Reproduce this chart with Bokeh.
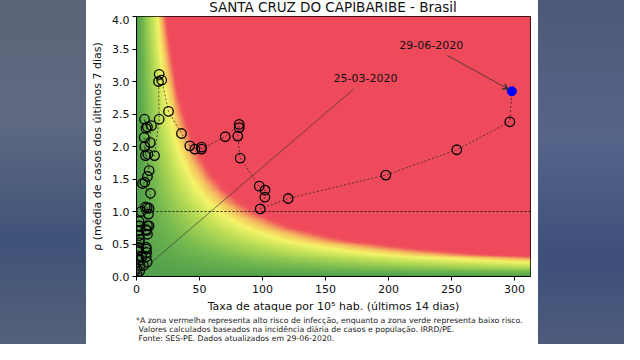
import numpy as np
from bokeh.plotting import figure
from bokeh.models import (Arrow, VeeHead, Label, Span, Div, NumeralTickFormatter)
from bokeh.layouts import row, column
from bokeh.embed import file_html
from bokeh.resources import INLINE

# ---------------- data ----------------
taxa = [0.5, 0.3, 2.5, 1.0, 3.0, 5.5, 4.2, 2.2, 8.5, 7.7, 1.7, 8.0, 1.7, 7.7, 2.4,
        7.7, 2.4, 8.7, 1.3, 8.3, 2.2, 7.4, 2.0, 8.7, 2.4, 10.0, 3.7, 9.5, 8.5, 7.0,
        10.0, 11.1, 4.8, 6.6, 8.7, 10.0, 6.6, 7.1, 6.1, 10.9, 6.3, 7.5, 8.7, 11.9,
        9.0, 14.3,
        18.0, 17.5, 18.0, 20.0, 25.4, 35.7, 42.3, 46.3, 51.6, 51.6, 70.4, 81.5,
        81.5, 80.4, 82.3, 97.4, 102.0, 101.9, 98.2, 120.4, 197.9, 254.2, 296.3]
rho = [0.03, 0.12, 0.08, 0.28, 0.17, 0.17, 0.30, 0.25, 0.22, 0.30, 0.40, 0.37, 0.45,
       0.42, 0.52, 0.45, 0.57, 0.65, 0.70, 0.71, 0.63, 0.72, 0.85, 0.78, 0.78, 0.78,
       1.00, 0.96, 1.06, 1.07, 1.05, 1.28, 1.43, 1.45, 1.54, 1.63, 2.00, 1.86, 2.14,
       2.06, 2.42, 2.28, 2.30, 2.32, 1.88, 1.86,
       2.42, 3.00, 3.11, 3.02, 2.54, 2.20, 2.01, 1.96, 1.99, 1.96, 2.15, 2.34,
       2.29, 2.16, 1.82, 1.39, 1.33, 1.22, 1.04, 1.20, 1.56, 1.95, 2.38]
last_taxa = [297.9]
last_rho = [2.85]

title_text = "SANTA CRUZ DO CAPIBARIBE - Brasil"
first_label = "25-03-2020"
last_label = "29-06-2020"
footnote_lines = [
    "*A zona vermelha representa alto risco de infecção, enquanto a zona verde representa baixo risco.",
    "&nbsp;Valores calculados baseados na incidência diária de casos e população. IRRD/PE.",
    "&nbsp;Fonte: SES-PE. Dados atualizados em 29-06-2020.",
]

x_ticks = [0, 50, 100, 150, 200, 250, 300]
y_ticks = [0.0, 0.5, 1.0, 1.5, 2.0, 2.5, 3.0, 3.5, 4.0]

# colormap stops for the risk background (EPG = taxa * rho)
cmap_levels = [0, 20, 45, 65, 78, 92, 100]
cmap_colors = [(82, 160, 76), (118, 186, 80), (186, 221, 86), (245, 245, 105),
               (245, 190, 95), (240, 82, 92), (239, 74, 92)]

XMAX, YMAX = 312.7, 4.0

# ---------------- background image ----------------
nx, ny = 420, 280
gx = np.linspace(0, XMAX, nx)
gy = np.linspace(0, YMAX, ny)
GX, GY = np.meshgrid(gx, gy)
epg = GX * GY
lv = np.array(cmap_levels, dtype=float)
cc = np.array(cmap_colors, dtype=float)
img = np.empty((ny, nx), dtype=np.uint32)
view = img.view(dtype=np.uint8).reshape((ny, nx, 4))
for k in range(3):
    view[:, :, k] = np.interp(epg, lv, cc[:, k]).astype(np.uint8)
view[:, :, 3] = 255

# ---------------- figure ----------------
FONT = "DejaVu Sans"
p = figure(frame_width=394, frame_height=260, x_range=(0, XMAX), y_range=(0, YMAX),
           output_backend="svg", toolbar_location=None,
           min_border_left=50, min_border_right=8, min_border_top=1,
           min_border_bottom=0, background_fill_color="white",
           border_fill_color="white")

p.image_rgba(image=[img], x=0, y=0, dw=XMAX, dh=YMAX)

p.grid.visible = False
p.outline_line_color = "black"
p.outline_line_width = 1

for ax in (p.xaxis[0], p.yaxis[0]):
    ax.major_tick_out = 4
    ax.major_tick_in = 0
    ax.minor_tick_out = 0
    ax.minor_tick_in = 0
    ax.axis_line_color = "black"
    ax.major_tick_line_color = "black"
    ax.major_label_text_font = FONT
    ax.major_label_text_font_size = "11px"
    ax.major_label_text_color = "#111111"
    ax.axis_label_text_font = FONT
    ax.axis_label_text_font_size = "11px"
    ax.axis_label_text_font_style = "normal"
    ax.axis_label_text_color = "#111111"

p.xaxis.major_label_standoff = 4
p.yaxis.major_label_standoff = 3
p.xaxis.ticker = x_ticks
p.yaxis.ticker = y_ticks
p.yaxis.formatter = NumeralTickFormatter(format="0.0")
p.xaxis.axis_label = "Taxa de ataque por 10\u2075 hab. (últimos 14 dias)"
p.yaxis.axis_label = "\u03c1 (média de casos dos últimos 7 dias)"
p.xaxis.axis_label_standoff = 4
p.yaxis.axis_label_standoff = 5

# reference line rho = 1
p.add_layout(Span(location=1.0, dimension="width", line_color="black",
                  line_width=0.8, line_dash="2 2"))

# trajectory
all_x = taxa + last_taxa
all_y = rho + last_rho
p.line(all_x, all_y, line_color="#222222", line_width=0.8, line_dash="2 2",
       line_alpha=0.9)
p.scatter(taxa, rho, marker="circle", size=9.5, fill_color=None,
          line_color="black", line_width=1.3)
p.scatter(last_taxa, last_rho, marker="circle", size=9, fill_color="blue",
          line_color="blue")

# annotations
p.add_layout(Arrow(end=VeeHead(size=5, line_color="#333333", line_width=0.8),
                   x_start=172.8, y_start=2.89, x_end=taxa[0], y_end=rho[0],
                   line_color="#333333", line_width=0.8, line_alpha=0.8))
p.add_layout(Label(x=181.7, y=3.06, text=first_label, text_align="center",
                   text_baseline="middle", text_font=FONT,
                   text_font_size="11px", text_color="#111111"))
p.add_layout(Arrow(end=VeeHead(size=6, line_color="#333333", line_width=0.8,
                               fill_color="#333333"),
                   x_start=246.8, y_start=3.40, x_end=last_taxa[0] - 2.5,
                   y_end=last_rho[0] + 0.03,
                   line_color="#333333", line_width=0.8))
p.add_layout(Label(x=233.9, y=3.56, text=last_label, text_align="center",
                   text_baseline="middle", text_font=FONT,
                   text_font_size="11px", text_color="#111111"))

title_div = Div(text=title_text, width=452, height=15, margin=0,
                styles={"background-color": "white", "padding-left": "50px",
                        "padding-right": "8px", "text-align": "center",
                        "font-family": "'DejaVu Sans'", "font-size": "13.5px",
                        "line-height": "15px", "color": "#111111",
                        "white-space": "nowrap", "box-sizing": "border-box",
                        "padding-top": "0px"})
foot = Div(text="<br>".join(footnote_lines), width=452, height=28, margin=0,
           styles={"background-color": "white", "padding-left": "50px",
                   "font-family": "'DejaVu Sans'", "font-size": "7.8px",
                   "line-height": "9px", "color": "#222222",
                   "white-space": "nowrap", "box-sizing": "border-box",
                   "padding-top": "1px"})
center = column(title_div, p, foot, spacing=0)

grad_l = "linear-gradient(180deg, #5b6477 0%, #5f6a82 35%, #3f5278 70%, #56617a 100%)"
grad_r = "linear-gradient(180deg, #4c5a78 0%, #56648a 40%, #3d4f7a 75%, #4d5b7c 100%)"
left = Div(text="", width=86, height=344, margin=0, styles={"background": grad_l})
right = Div(text="", width=86, height=344, margin=0, styles={"background": grad_r})
layout = row(left, center, right, spacing=0)

open("out.html", "w").write(file_html(layout, INLINE))
